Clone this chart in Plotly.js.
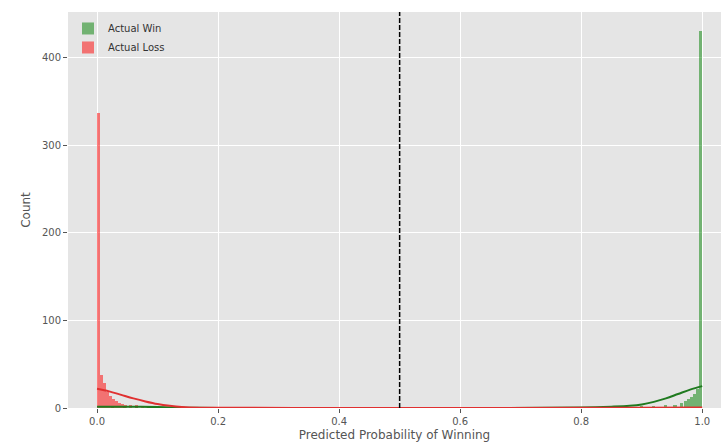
<!DOCTYPE html>
<html>
<head>
<meta charset="utf-8">
<script src="https://cdn.plot.ly/plotly-3.0.1.min.js"></script>
<style>html,body{margin:0;padding:0;overflow:hidden;background:#fff}</style>
</head>
<body>
<div id="chart" style="width:721px;height:447px"></div>
<script>
// Histogram bins (centres) and counts
const winX  = [0.025, 0.045, 0.065, 0.085, 0.88, 0.9, 0.92, 0.94, 0.955, 0.965, 0.9725, 0.9775, 0.9825, 0.9875, 0.9925, 0.9975];
const winY  = [2, 2, 1, 1, 1, 2, 2, 3, 4, 6, 8, 10, 12, 16, 22, 430];
const lossX = [0.0025, 0.0075, 0.0125, 0.0175, 0.0225, 0.0275, 0.0325, 0.0375, 0.0425, 0.0475, 0.055, 0.065, 0.075, 0.085, 0.1, 0.12, 0.97, 0.99];
const lossY = [337, 38, 28, 18, 14, 10, 8, 6, 5, 4, 3, 3, 2, 2, 1, 1, 1, 1];
const binWidth = 0.005;

// KDE curves
const kdeWinX  = [0.0, 0.05, 0.1, 0.15, 0.2, 0.4, 0.6, 0.8, 0.85, 0.88, 0.9, 0.92, 0.94, 0.96, 0.98, 1.0];
const kdeWinY  = [1.5, 1.5, 1.0, 0.4, 0.1, 0.05, 0.05, 0.5, 1.5, 2.5, 4, 7, 11, 16, 21, 25];
const kdeLossX = [0.0, 0.02, 0.04, 0.06, 0.08, 0.1, 0.12, 0.14, 0.17, 0.2, 0.4, 0.6, 0.8, 0.9, 1.0];
const kdeLossY = [22, 19, 15, 11, 7.5, 4.5, 2.5, 1.2, 0.4, 0.2, 0.1, 0.1, 0.2, 0.4, 0.6];

const threshold = 0.5;
const yMax = 452;

const traces = [
  {type:'bar', x: winX, y: winY, width: binWidth, name:'Actual Win',
   marker:{color:'rgba(0,128,0,0.5)', line:{width:0}}, showlegend:true},
  {type:'bar', x: lossX, y: lossY, width: binWidth, name:'Actual Loss',
   marker:{color:'rgba(255,0,0,0.5)', line:{width:0}}, showlegend:true},
  {type:'scatter', mode:'lines', x: kdeWinX, y: kdeWinY, line:{color:'#1f7a1f', width:2, shape:'spline'},
   showlegend:false, hoverinfo:'skip'},
  {type:'scatter', mode:'lines', x: kdeLossX, y: kdeLossY, line:{color:'#e03030', width:2, shape:'spline'},
   showlegend:false, hoverinfo:'skip'},
  {type:'scatter', mode:'lines', x:[threshold, threshold], y:[0, yMax],
   line:{color:'black', width:1.5, dash:'5px,2px'}, showlegend:false, hoverinfo:'skip'}
];

const layout = {
  width: 721, height: 447,
  margin: {l:68, r:0, t:12, b:39},
  paper_bgcolor:'#ffffff', plot_bgcolor:'#E5E5E5',
  barmode:'overlay', bargap:0,
  font:{family:'DejaVu Sans', color:'#555555', size:10},
  xaxis:{range:[-0.048, 1.031], tickvals:[0,0.2,0.4,0.6,0.8,1.0], ticktext:['0.0','0.2','0.4','0.6','0.8','1.0'],
    showgrid:true, gridcolor:'#ffffff', gridwidth:1, zeroline:false, ticks:'outside', ticklen:4, tickcolor:'#555555',
    showline:false,
    title:{text:'Predicted Probability of Winning', font:{size:12, color:'#555555'}, standoff:4}},
  yaxis:{range:[0, yMax], tickvals:[0,100,200,300,400], showgrid:true, gridcolor:'#ffffff', gridwidth:1,
    zeroline:false, ticks:'outside', ticklen:4, tickcolor:'#555555', showline:false,
    title:{text:'Count', font:{size:12, color:'#555555'}, standoff:8}},
  legend:{x:0.0, y:0.995, xanchor:'left', yanchor:'top', bgcolor:'rgba(229,229,229,0)', font:{size:10, color:'#333333'},
    traceorder:'normal', itemwidth:30}
};

Plotly.newPlot('chart', traces, layout, {displayModeBar:false, staticPlot:true});
</script>
</body>
</html>
